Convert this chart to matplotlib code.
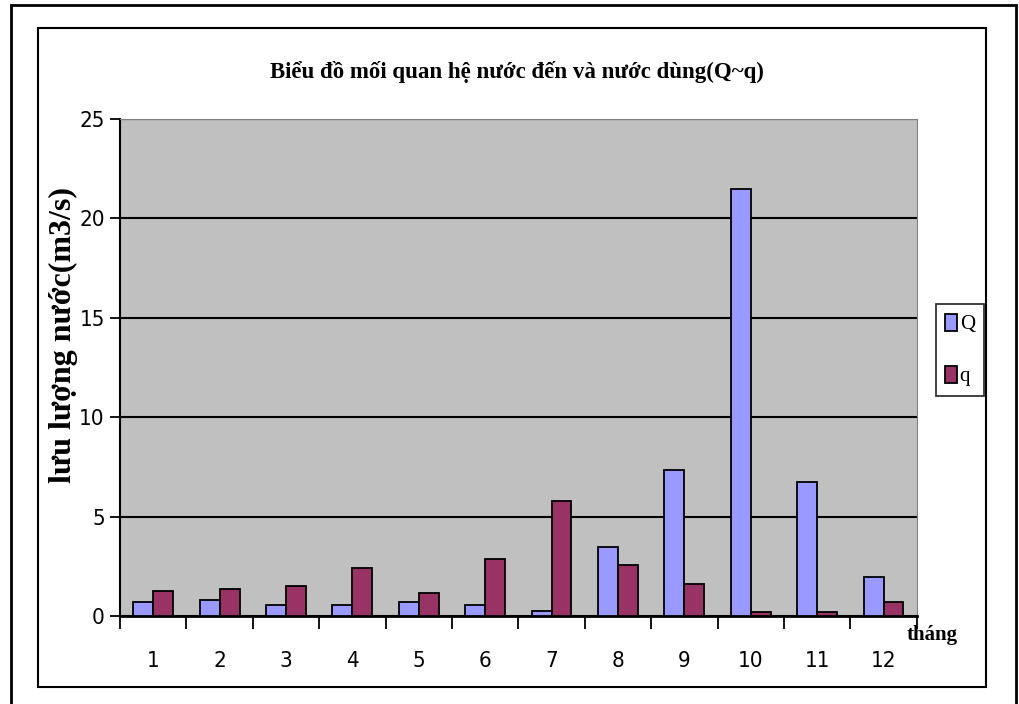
import matplotlib
matplotlib.use("Agg")
import matplotlib.pyplot as plt
import numpy as np
from matplotlib.patches import Rectangle

months = ['1', '2', '3', '4', '5', '6', '7', '8', '9', '10', '11', '12']
Q = [0.68, 0.82, 0.57, 0.57, 0.68, 0.57, 0.23, 3.47, 7.33, 21.5, 6.76, 1.98]
q = [1.28, 1.38, 1.50, 2.42, 1.15, 2.88, 5.78, 2.55, 1.61, 0.22, 0.22, 0.69]

serif = ['Liberation Serif', 'DejaVu Serif']

fig = plt.figure(figsize=(10.19, 7.04), dpi=100)
ax = fig.add_axes([120/1019, 1 - 616/704, (916.7 - 120)/1019, (616 - 119)/704])
ax.set_facecolor('#C0C0C0')

x = np.arange(len(months))
width = 0.3
ax.bar(x - width/2, Q, width, color='#9999FF', edgecolor='black', linewidth=1.3, label='Q', zorder=3)
ax.bar(x + width/2, q, width, color='#993366', edgecolor='black', linewidth=1.3, label='q', zorder=3)

ax.set_xlim(-0.5, len(months) - 0.5)
ax.set_ylim(0, 25)
ax.set_yticks(np.arange(0, 26, 5))
ax.yaxis.grid(True, color='black', linewidth=1.5, zorder=1)
ax.set_axisbelow(True)

# category ticks at the boundaries, labels in the middle
ax.set_xticks(np.arange(-0.5, len(months), 1.0))
ax.set_xticklabels([])
ax.set_xticks(x, minor=True)
ax.set_xticklabels(months, minor=True)
ax.tick_params(axis='x', which='major', length=9, width=1.3, direction='out')
ax.tick_params(axis='x', which='minor', length=0, pad=25)
ax.tick_params(axis='y', length=7, width=1.3, pad=4)
for lab in ax.get_yticklabels() + ax.get_xticklabels(minor=True):
    lab.set_family('DejaVu Sans')
    lab.set_stretch('condensed')
    lab.set_fontsize(16)

ax.spines['left'].set_linewidth(1.5)
ax.spines['bottom'].set_linewidth(2)
ax.spines['top'].set_color('#808080')
ax.spines['right'].set_color('#808080')

fig.text(517/1019, 1 - 72/704, 'Biểu đồ mối quan hệ nước đến và nước dùng(Q~q)',
         family=serif, fontweight='bold', fontsize=16.5, ha='center', va='center')
fig.text(63/1019, 1 - 335/704, 'lưu lượng nước(m3/s)', family=serif, fontweight='bold',
         fontsize=23, rotation=90, ha='center', va='center')
fig.text(932/1019, 1 - 635/704, 'tháng', family=serif, fontweight='bold', fontsize=15,
         ha='center', va='center')

leg = fig.legend(loc='center', bbox_to_anchor=(960/1019, 1 - 350/704), frameon=True,
                 fancybox=False, edgecolor='black', prop={'family': serif, 'size': 15},
                 handlelength=0.55, handleheight=0.9, handletextpad=0.15, labelspacing=1.5,
                 borderpad=0.45, borderaxespad=0)
leg.get_frame().set_linewidth(1.3)

# chart area borders
fig.add_artist(Rectangle((38/1019, 1 - 687/704), (986 - 38)/1019, (687 - 28)/704,
                         transform=fig.transFigure, fill=False, edgecolor='black', linewidth=1.5))
fig.add_artist(Rectangle((11/1019, -0.01), (1016 - 11)/1019, 1 - 5/704 + 0.01,
                         transform=fig.transFigure, fill=False, edgecolor='black', linewidth=2))

fig.savefig('out.png', dpi=100)
